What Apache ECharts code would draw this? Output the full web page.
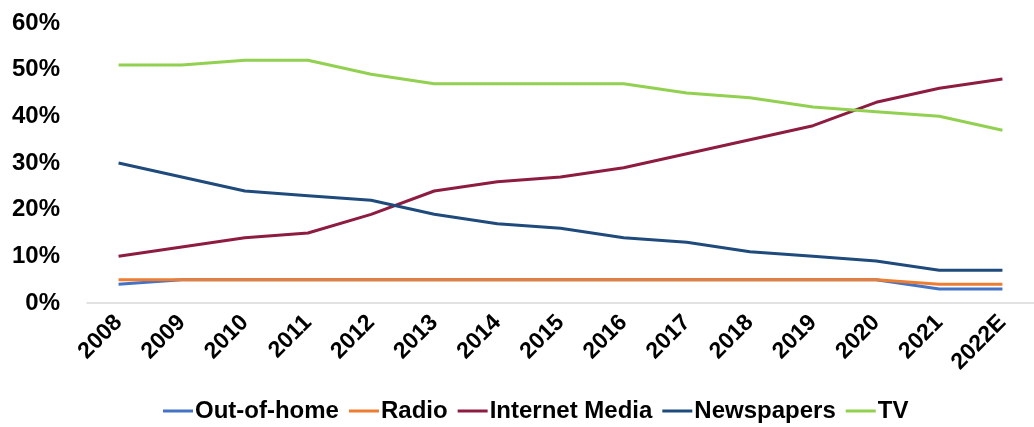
<!DOCTYPE html>
<html>
<head>
<meta charset="utf-8">
<script src="https://cdn.jsdelivr.net/npm/echarts@6/dist/echarts.min.js"></script>
<style>
  html, body { margin: 0; padding: 0; background: #fff; }
  #chart { width: 1034px; height: 427px; }
</style>
</head>
<body>
<div id="chart"></div>
<script>
// Advertising spend share by medium, 2008–2022E (%)
const years = ['2008','2009','2010','2011','2012','2013','2014','2015','2016','2017','2018','2019','2020','2021','2022E'];
const outOfHome    = [4, 5, 5, 5, 5, 5, 5, 5, 5, 5, 5, 5, 5, 3, 3];
const radio        = [5, 5, 5, 5, 5, 5, 5, 5, 5, 5, 5, 5, 5, 4, 4];
const internetMedia = [10, 12, 14, 15, 19, 24, 26, 27, 29, 32, 35, 38, 43, 46, 48];
const newspapers   = [30, 27, 24, 23, 22, 19, 17, 16, 14, 13, 11, 10, 9, 7, 7];
const tv           = [51, 51, 52, 52, 49, 47, 47, 47, 47, 45, 44, 42, 41, 40, 37];

const FONT = '"Liberation Sans", Arial, sans-serif';

function line(name, data, color) {
  return {
    name: name,
    type: 'line',
    data: data,
    symbol: 'none',
    smooth: false,
    lineStyle: { color: color, width: 3 },
    itemStyle: { color: color }
  };
}

const chart = echarts.init(document.getElementById('chart'));
chart.setOption({
  animation: false,
  grid: { left: 87, right: 0, top: 23, bottom: 124, containLabel: false },
  legend: {
    bottom: 4,
    left: 163,
    padding: 0,
    itemWidth: 30,
    itemHeight: 3,
    itemGap: 10,
    icon: 'rect',
    textStyle: { fontFamily: FONT, fontWeight: 'bold', fontSize: 24, color: '#000', padding: [0, 0, 0, -3] },
    data: ['Out-of-home', 'Radio', 'Internet Media', 'Newspapers', 'TV']
  },
  xAxis: {
    type: 'category',
    data: years,
    boundaryGap: true,
    axisLine: { lineStyle: { color: '#d9d9d9', width: 1.5 } },
    axisTick: { show: false },
    axisLabel: {
      rotate: 45,
      interval: 0,
      margin: 16,
      fontFamily: FONT,
      fontWeight: 'bold',
      fontSize: 23,
      color: '#000'
    }
  },
  yAxis: {
    type: 'value',
    min: 0,
    max: 60,
    interval: 10,
    splitLine: { show: false },
    axisLine: { show: false },
    axisTick: { show: false },
    axisLabel: {
      formatter: '{value}%',
      margin: 27,
      fontFamily: FONT,
      fontWeight: 'bold',
      fontSize: 24,
      color: '#000'
    }
  },
  series: [
    line('Out-of-home', outOfHome, '#4472C4'),
    line('Radio', radio, '#ED7D31'),
    line('Internet Media', internetMedia, '#8E1C40'),
    line('Newspapers', newspapers, '#1F4A7C'),
    line('TV', tv, '#92D050')
  ]
});
</script>
</body>
</html>
